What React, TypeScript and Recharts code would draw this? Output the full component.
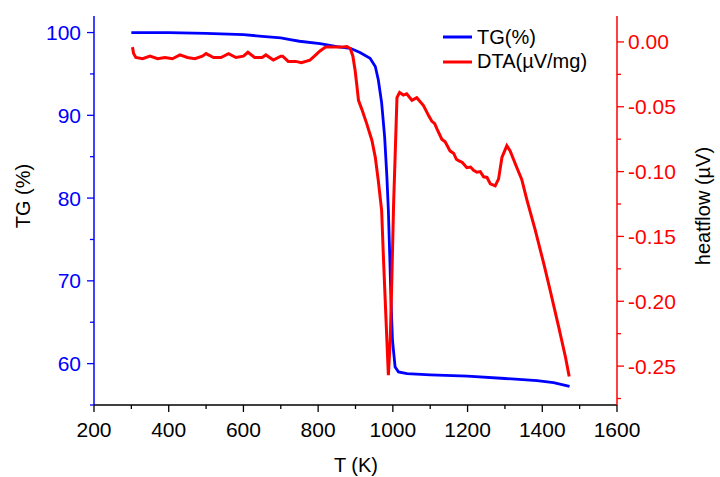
import React from 'react';
import { LineChart, Line, XAxis, YAxis } from 'recharts';

// TG curve (temperature in K, mass %)
const tgTemps = [300, 350, 400, 500, 600, 650, 700, 725, 750, 805, 850, 886, 912, 939, 953, 961, 970, 978, 984, 988, 992, 995, 999, 1006, 1015, 1038, 1100, 1200, 1300, 1386, 1430, 1473];
const tgValues = [100.0, 100.0, 99.98, 99.9, 99.75, 99.55, 99.35, 99.15, 98.95, 98.67, 98.3, 98.1, 97.6, 96.9, 95.9, 94.3, 91.5, 87.4, 82.6, 78.5, 72.5, 67.7, 62.8, 59.6, 59.0, 58.8, 58.65, 58.5, 58.2, 57.95, 57.7, 57.25];

// DTA curve (temperature in K, µV/mg)
const dtaTemps = [303, 306, 312, 330, 350, 370, 390, 410, 430, 450, 470, 490, 500, 520, 540, 560, 580, 600, 612, 630, 650, 660, 680, 700, 705, 720, 740, 755, 778, 790, 805, 820, 840, 860, 877, 886, 893, 899, 903, 908, 917, 930, 944, 953, 961, 970, 975, 984, 988, 993, 997, 1002, 1006, 1011, 1018, 1028, 1037, 1051, 1064, 1082, 1096, 1104, 1112, 1118, 1131, 1140, 1153, 1163, 1170, 1176, 1186, 1198, 1208, 1216, 1225, 1234, 1243, 1252, 1261, 1274, 1283, 1292, 1305, 1314, 1332, 1345, 1359, 1381, 1404, 1421, 1444, 1462, 1472];
const dtaValues = [-0.004, -0.009, -0.012, -0.013, -0.011, -0.013, -0.012, -0.013, -0.010, -0.012, -0.013, -0.011, -0.009, -0.012, -0.012, -0.009, -0.012, -0.011, -0.008, -0.012, -0.012, -0.010, -0.014, -0.011, -0.011, -0.015, -0.015, -0.016, -0.014, -0.011, -0.007, -0.004, -0.004, -0.004, -0.0035, -0.005, -0.011, -0.022, -0.032, -0.045, -0.052, -0.063, -0.076, -0.089, -0.107, -0.130, -0.168, -0.230, -0.257, -0.230, -0.186, -0.125, -0.089, -0.043, -0.039, -0.041, -0.040, -0.045, -0.043, -0.049, -0.057, -0.061, -0.063, -0.067, -0.075, -0.077, -0.084, -0.086, -0.0905, -0.0915, -0.093, -0.097, -0.0965, -0.099, -0.1005, -0.1, -0.104, -0.1045, -0.1095, -0.111, -0.1056, -0.089, -0.080, -0.084, -0.097, -0.106, -0.122, -0.145, -0.171, -0.1915, -0.220, -0.243, -0.258];

const xTicks = [200, 300, 400, 500, 600, 700, 800, 900, 1000, 1100, 1200, 1300, 1400, 1500, 1600];
const tgTicks = [55, 60, 65, 70, 75, 80, 85, 90, 95, 100];
const dtaTicks = [-0.275, -0.25, -0.225, -0.2, -0.175, -0.15, -0.125, -0.1, -0.075, -0.05, -0.025, 0];

const tgData = tgTemps.map((t, i) => ({ t, tg: tgValues[i] }));
const dtaData = dtaTemps.map((t, i) => ({ t, dta: dtaValues[i] }));

const BLUE = '#0000ff';
const RED = '#ff0000';
const FONT = 'Arial, "Liberation Sans", sans-serif';

const BottomTick = ({ x, y, payload }: any) => {
  const major = payload.value % 200 === 0;
  return (
    <g>
      <line x1={x} x2={x} y1={y} y2={y + (major ? 7 : 4)} stroke="#000" strokeWidth={1.3} />
      {major && (
        <text x={x} y={y + 32} textAnchor="middle" fontSize={21} fill="#000" fontFamily={FONT}>
          {payload.value}
        </text>
      )}
    </g>
  );
};

const TopTick = ({ x, y }: any) => (
  <line x1={x} x2={x} y1={y} y2={y + 3} stroke="#000" strokeWidth={1.2} />
);

const LeftTick = ({ x, y, payload }: any) => {
  const major = payload.value % 10 === 0;
  return (
    <g>
      <line x1={x} x2={x - (major ? 7 : 4)} y1={y} y2={y} stroke={BLUE} strokeWidth={1.3} />
      {major && (
        <text x={x - 13} y={y + 7.5} textAnchor="end" fontSize={21} fill={BLUE} fontFamily={FONT}>
          {payload.value}
        </text>
      )}
    </g>
  );
};

const RightTick = ({ x, y, payload }: any) => {
  const major = Math.round(payload.value * 1000) % 50 === 0;
  return (
    <g>
      <line x1={x} x2={x + (major ? 7 : 4)} y1={y} y2={y} stroke={RED} strokeWidth={1.3} />
      {major && (
        <text x={x + 11} y={y + 7.5} textAnchor="start" fontSize={21} fill={RED} fontFamily={FONT}>
          {payload.value.toFixed(2)}
        </text>
      )}
    </g>
  );
};

const legendItems = [
  { name: 'TG(%)', color: BLUE },
  { name: 'DTA(\u00b5V/mg)', color: RED },
];

const LegendBox = () => (
  <div style={{ position: 'absolute', left: 443, top: 25, fontFamily: FONT, fontSize: 20, color: '#000' }}>
    {legendItems.map((it) => (
      <div key={it.name} style={{ display: 'flex', alignItems: 'center', height: 24.6, whiteSpace: 'nowrap' }}>
        <svg width={34} height={4} style={{ display: 'block' }}>
          <line x1={0} x2={29} y1={2} y2={2} stroke={it.color} strokeWidth={3} />
        </svg>
        <span>{it.name}</span>
      </div>
    ))}
  </div>
);

export default function App() {
  return (
    <div style={{ position: 'absolute', left: 0, top: 0, width: 720, height: 477, background: '#fff', fontFamily: FONT }}>
      <LineChart width={720} height={477} margin={{ top: 16, right: 0, bottom: 0, left: 0 }}>
        <XAxis
          xAxisId="bottom"
          dataKey="t"
          type="number"
          domain={[200, 1600]}
          ticks={xTicks}
          interval={0}
          height={72}
          tickSize={0}
          tickMargin={0}
          tickLine={false}
          axisLine={{ stroke: '#000', strokeWidth: 1.5 }}
          tick={<BottomTick />}
          allowDataOverflow
          label={() => (
            <text x={356} y={472} textAnchor="middle" fontSize={20} fill="#000" fontFamily={FONT}>
              T (K)
            </text>
          )}
        />
        <XAxis
          xAxisId="top"
          orientation="top"
          dataKey="t"
          type="number"
          domain={[200, 1600]}
          ticks={xTicks}
          interval={0}
          height={0}
          tickSize={0}
          tickMargin={0}
          tickLine={false}
          axisLine={{ stroke: '#000', strokeWidth: 1.5 }}
          tick={<TopTick />}
          allowDataOverflow
        />
        <YAxis
          yAxisId="tg"
          orientation="left"
          type="number"
          domain={[55, 102]}
          ticks={tgTicks}
          interval={0}
          width={94}
          tickSize={0}
          tickMargin={0}
          tickLine={false}
          axisLine={{ stroke: BLUE, strokeWidth: 1.5 }}
          tick={<LeftTick />}
          allowDataOverflow
          label={() => (
            <text x={30} y={196} transform="rotate(-90 30 196)" textAnchor="middle" fontSize={20} fill="#000" fontFamily={FONT}>
              TG (%)
            </text>
          )}
        />
        <YAxis
          yAxisId="dta"
          orientation="right"
          type="number"
          domain={[-0.28, 0.02]}
          ticks={dtaTicks}
          interval={0}
          width={103}
          tickSize={0}
          tickMargin={0}
          tickLine={false}
          axisLine={{ stroke: RED, strokeWidth: 1.5 }}
          tick={<RightTick />}
          allowDataOverflow
          label={() => (
            <text x={710} y={206} transform="rotate(-90 710 206)" textAnchor="middle" fontSize={20} fill="#000" fontFamily={FONT}>
              heatflow ({'\u00b5'}V)
            </text>
          )}
        />
        <Line
          xAxisId="bottom"
          yAxisId="tg"
          data={tgData}
          dataKey="tg"
          name="TG(%)"
          type="linear"
          stroke={BLUE}
          strokeWidth={2.8}
          dot={false}
          isAnimationActive={false}
        />
        <Line
          xAxisId="bottom"
          yAxisId="dta"
          data={dtaData}
          dataKey="dta"
          name="DTA(µV/mg)"
          type="linear"
          stroke={RED}
          strokeWidth={3}
          dot={false}
          isAnimationActive={false}
        />
      </LineChart>
      <LegendBox />
    </div>
  );
}
